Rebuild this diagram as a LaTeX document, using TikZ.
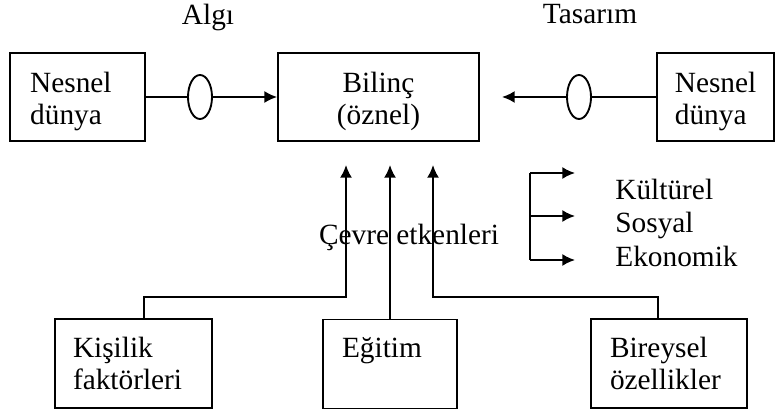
\documentclass[tikz,border=0pt]{standalone}
\usepackage{fontspec}
\setmainfont{Liberation Serif}
\usetikzlibrary{arrows.meta}
\usetikzlibrary{shapes.geometric}
\newcommand{\ust}{\rule{0pt}{22pt}}

\begin{document}
\begin{tikzpicture}[x=0.75pt,y=-0.75pt,
        font=\fontsize{22}{23.5}\selectfont,
        line width=1.4pt,
        kutu/.style={draw,rectangle,minimum height=66pt,inner ysep=0pt},
        altkutu/.style={kutu,minimum height=66.75pt,align=left,font=\fontsize{22}{24.5}\selectfont},
        halka/.style={draw,ellipse,minimum width=18pt,minimum height=33pt,inner sep=0pt},
        ok/.style={-{Latex[length=9.5pt,width=9pt]}}]
    \useasboundingbox (0,0) rectangle (784,416);
    \node[anchor=base] (algi) at (208,25) {Algı};
    \node[anchor=base] (tas) at (590,24) {Tasarım};
    \node[kutu,align=left,text width=71pt,inner xsep=15pt] (nes1) at (77.5,97) {\ust Nesnel\\dünya};
    \node[kutu,align=center,minimum width=150.75pt] (bil) at (378.5,97) {\ust Bilinç\\(öznel)};
    \node[kutu,align=left,text width=61pt,inner xsep=13.4pt] (nes2) at (715.5,97) {\ust Nesnel\\dünya};
    \node[halka] (e1) at (200,97) {};
    \node[halka] (e2) at (579,97) {};
    \coordinate (uc) at (502,97);
    \draw (nes1) -- (e1);
    \draw[ok] (e1) -- (bil.west);
    \draw (nes2) -- (e2);
    \draw[ok] (e2) -- (uc);

    \node[altkutu,text width=90.75pt,inner xsep=13.5pt] (kis) at (133.5,363.5) {Kişilik\\faktörleri};
    \node[altkutu,text width=72pt,inner xsep=14.25pt] (egi) at (390,364) {\ust Eğitim\\\strut};
    \node[altkutu,text width=88.5pt,inner xsep=14.25pt] (bir) at (669,363.5) {Bireysel\\özellikler};
    \node[anchor=base] (cev) at (409,245) {Çevre etkenleri};
    \coordinate (t1) at (346,165);
    \coordinate (t2) at (390,165);
    \coordinate (t3) at (433,165);
    \draw[ok] ([xshift=7.9pt]kis.north) -- ++(0,-21.5) -| (t1);
    \draw[ok] (egi.north) -- (t2);
    \draw[ok] ([xshift=-8.25pt]bir.north) -- ++(0,-21.5) -| (t3);

    \node[anchor=base west] (kul) at (610,200) {Kültürel};
    \node[anchor=base west] (sos) at (610,233) {Sosyal};
    \node[anchor=base west] (eko) at (610,267) {Ekonomik};
    \coordinate (b1) at (530,173);
    \coordinate (b2) at (530,216);
    \coordinate (b3) at (530,260);
    \coordinate (c1) at (575,173);
    \coordinate (c2) at (575,216);
    \coordinate (c3) at (575,260);
    \draw (b1) -- (b3);
    \foreach \i in {1,2,3}
        \draw[ok] (b\i) -- (c\i);
\end{tikzpicture}
\end{document}
